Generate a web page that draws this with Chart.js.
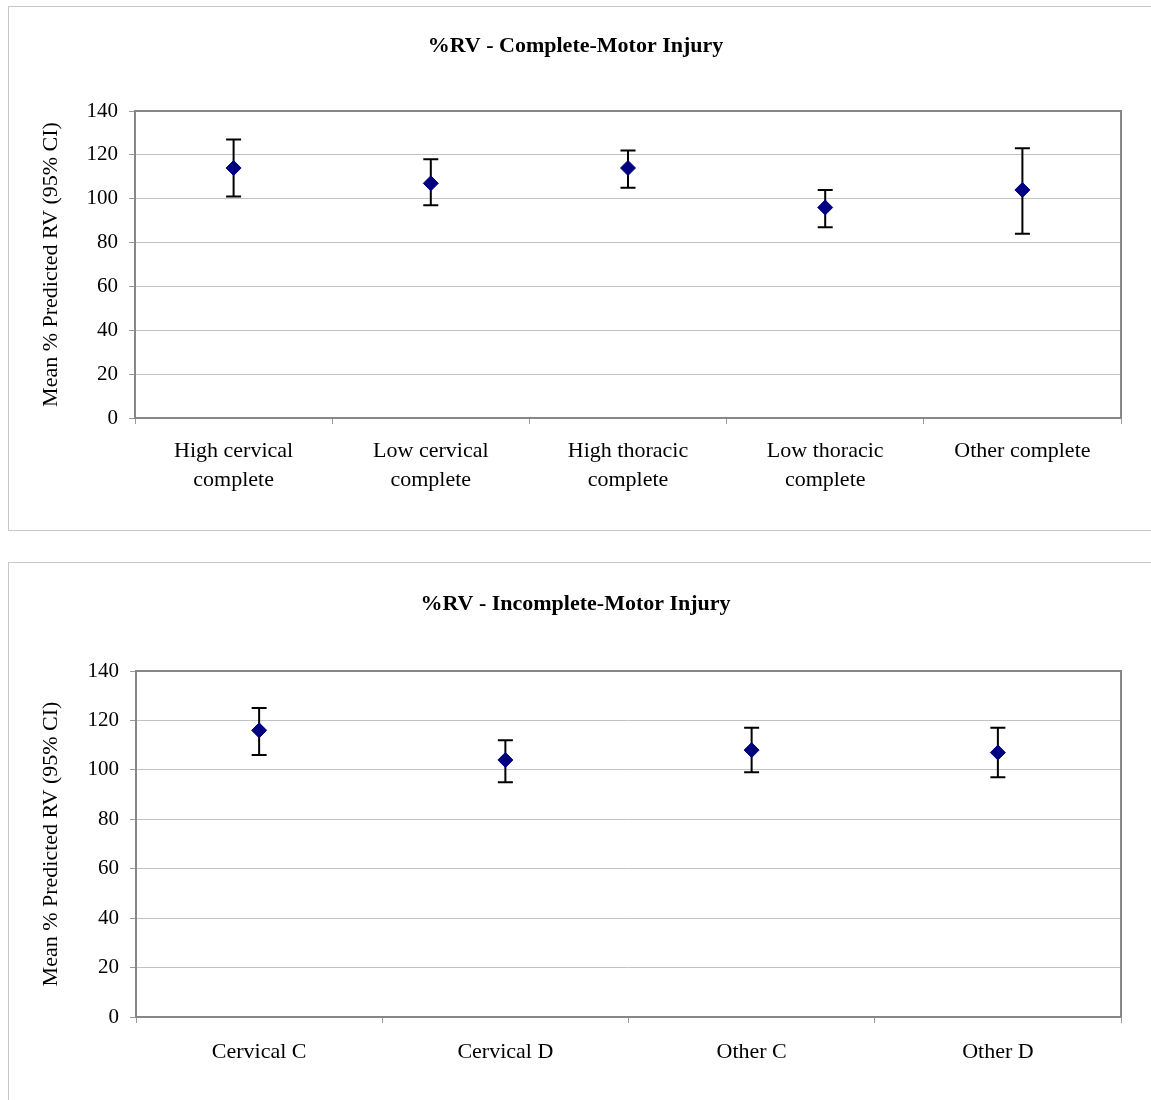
<!DOCTYPE html>
<html>
<head>
<meta charset="utf-8">
<script src="https://cdn.jsdelivr.net/npm/chart.js@4/dist/chart.umd.min.js"></script>
<style>
  html, body { margin: 0; padding: 0; background: #fff; overflow: hidden; width: 1151px; height: 1100px; }
  .box { position: absolute; box-sizing: border-box; border: 1px solid #c8c8c8; border-right: none; }
  canvas { position: absolute; }
</style>
</head>
<body>
<div class="box" style="left:8px; top:6px; width:1143px; height:525px;"></div>
<canvas id="c1" width="1121" height="524" style="left:30px; top:6px;"></canvas>
<div class="box" style="left:8px; top:562px; width:1143px; height:560px;"></div>
<canvas id="c2" width="1121" height="538" style="left:30px; top:562px;"></canvas>
<script>
// ---- data ----
const completeTitle = '%RV - Complete-Motor Injury';
const completeCategories = [['High cervical', 'complete'], ['Low cervical', 'complete'], ['High thoracic', 'complete'], ['Low thoracic', 'complete'], 'Other complete'];
const completeMean  = [114, 107, 114, 96, 104];
const completeUpper = [127, 118, 122, 104, 123];
const completeLower = [101, 97, 105, 87, 84];

const incompleteTitle = '%RV - Incomplete-Motor Injury';
const incompleteCategories = ['Cervical C', 'Cervical D', 'Other C', 'Other D'];
const incompleteMean  = [116, 104, 108, 107];
const incompleteUpper = [125, 112, 117, 117];
const incompleteLower = [106, 95, 99, 97];

const yAxisTitle = 'Mean % Predicted RV (95% CI)';
const yMin = 0, yMax = 140, yStep = 20;

const FONT = "'Liberation Serif', 'Times New Roman', serif";

const errorBarPlugin = {
  id: 'errorBars',
  beforeDatasetsDraw(chart, args, opts) {
    const {ctx, chartArea, scales} = chart;
    ctx.save();
    ctx.strokeStyle = '#878787';
    ctx.lineWidth = 2;
    ctx.strokeRect(chartArea.left, chartArea.top, chartArea.right - chartArea.left, chartArea.bottom - chartArea.top);
    ctx.strokeStyle = '#000';
    ctx.lineWidth = 2;
    const up = opts.upper, lo = opts.lower;
    for (let i = 0; i < up.length; i++) {
      const x = scales.x.getPixelForValue(i);
      const yU = scales.y.getPixelForValue(up[i]);
      const yL = scales.y.getPixelForValue(lo[i]);
      ctx.beginPath();
      ctx.moveTo(x, yU); ctx.lineTo(x, yL);
      ctx.moveTo(x - 7.5, yU); ctx.lineTo(x + 7.5, yU);
      ctx.moveTo(x - 7.5, yL); ctx.lineTo(x + 7.5, yL);
      ctx.stroke();
    }
    ctx.restore();
  }
};

function makeChart(id, title, cats, mean, upper, lower, geo) {
  const canvas = document.getElementById(id);
  const W = canvas.width, H = canvas.height;
  return new Chart(canvas, {
    type: 'line',
    data: {
      labels: cats,
      datasets: [{
        data: mean,
        showLine: false,
        pointStyle: 'rectRot',
        pointRadius: 7.5,
        pointBorderWidth: 1,
        pointBackgroundColor: '#000080',
        pointBorderColor: '#000080'
      }]
    },
    options: {
      responsive: false,
      animation: false,
      events: [],
      layout: { padding: { left: 0, right: W - geo.right, top: 0, bottom: 0 } },
      plugins: {
        legend: { display: false },
        tooltip: { enabled: false },
        title: {
          display: true,
          text: title,
          color: '#000',
          font: { family: FONT, size: 22, weight: 'bold', lineHeight: 1.2 },
          padding: { top: geo.titleCenter - 13.2, bottom: geo.top - (geo.titleCenter - 13.2) - 26.4 }
        },
        errorBars: { upper: upper, lower: lower }
      },
      scales: {
        x: {
          type: 'category',
          offset: true,
          grid: { display: true, drawOnChartArea: false, drawTicks: true, tickLength: 6, tickColor: '#9a9a9a', offset: true },
          border: { display: false },
          ticks: { color: '#000', font: { family: FONT, size: 22, lineHeight: 29 / 22 }, padding: geo.xPad, maxRotation: 0, autoSkip: false },
          afterFit(scale) { scale.height = H - geo.bottom; }
        },
        y: {
          min: yMin, max: yMax,
          grid: { color: '#c2c2c2', lineWidth: 1, tickLength: 6, tickColor: '#9a9a9a' },
          border: { display: false },
          ticks: { stepSize: yStep, color: '#000', font: { family: FONT, size: 21 }, padding: 11 },
          title: { display: true, text: yAxisTitle, color: '#000', font: { family: FONT, size: 22, lineHeight: 1.2 }, padding: { top: geo.yTitlePad, bottom: 0 } },
          afterFit(scale) { scale.width = geo.left; }
        }
      }
    },
    plugins: [errorBarPlugin]
  });
}

// canvas starts at page x=30: chart area 135..1121 (top), 136..1121 (bottom)
makeChart('c1', completeTitle, completeCategories, completeMean, completeUpper, completeLower,
  { left: 105, top: 105, right: 1091, bottom: 412, titleCenter: 40, xPad: 12.5, yTitlePad: 7.8 });
makeChart('c2', incompleteTitle, incompleteCategories, incompleteMean, incompleteUpper, incompleteLower,
  { left: 106, top: 109, right: 1091, bottom: 455, titleCenter: 42, xPad: 15, yTitlePad: 7.8 });
</script>
</body>
</html>
